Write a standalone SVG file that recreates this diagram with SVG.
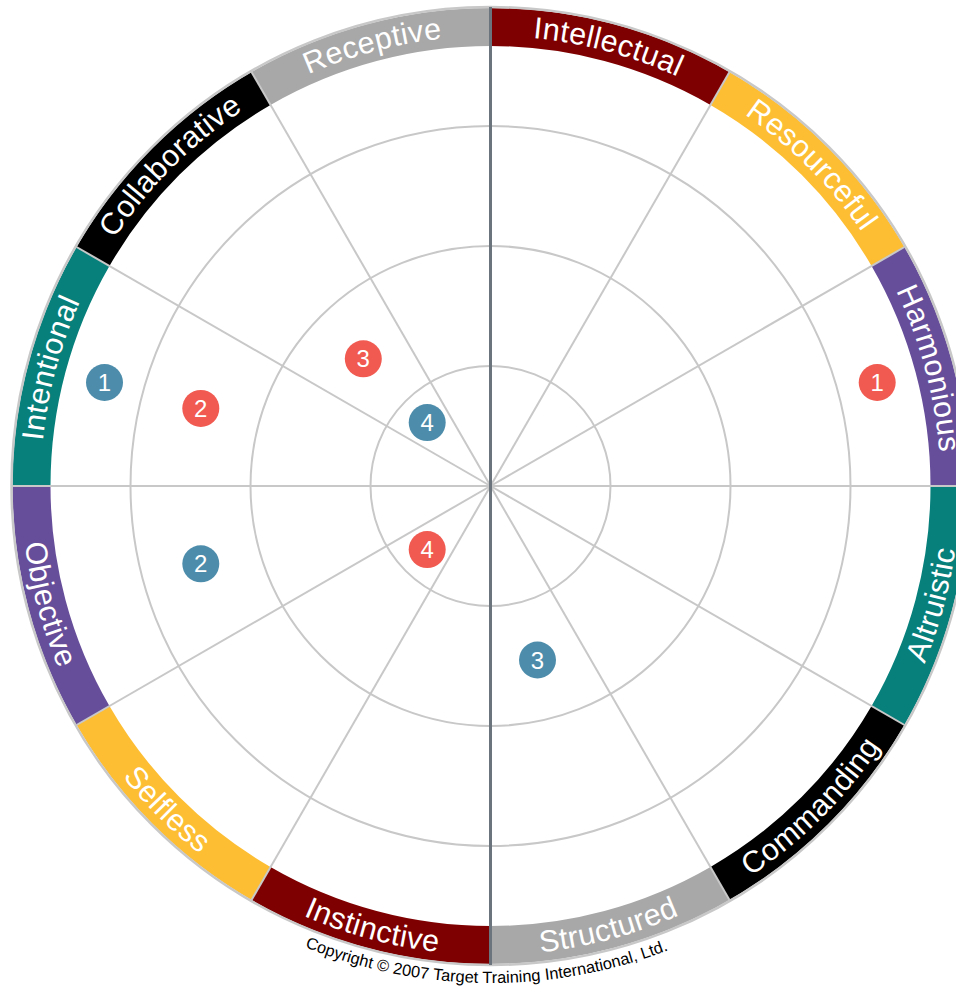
<svg xmlns="http://www.w3.org/2000/svg" xmlns:xlink="http://www.w3.org/1999/xlink" width="956" height="990" viewBox="0 0 956 990">
<style>
.grid{fill:none;stroke:#C8C8C8;stroke-width:2}
.spoke{stroke:#C8C8C8;stroke-width:2}
.lbl{font-family:"Liberation Sans",Arial,sans-serif;font-size:30.5px;fill:#fff;letter-spacing:0.4px}
.num{font-family:"Liberation Sans",Arial,sans-serif;font-size:24px;fill:#fff;text-anchor:middle}
.blue{fill:#4D8DAB}
.red{fill:#F05A50}
.copy{font-family:"Liberation Sans",Arial,sans-serif;font-size:16.4px;fill:#000}
</style>
<defs>
<path id="p0" d="M 490.5 36 A 450 450 0 0 1 715.5 96.29"/>
<path id="p30" d="M 715.5 96.29 A 450 450 0 0 1 880.21 261"/>
<path id="p60" d="M 880.21 261 A 450 450 0 0 1 940.5 486"/>
<path id="p90" d="M 896.67 720.5 A 469 469 0 0 0 959.5 486"/>
<path id="p120" d="M 724.5 892.17 A 469 469 0 0 0 896.67 720.5"/>
<path id="p150" d="M 490.5 955 A 469 469 0 0 0 724.5 892.17"/>
<path id="p180" d="M 256.5 892.17 A 469 469 0 0 0 490.5 955"/>
<path id="p210" d="M 84.33 720.5 A 469 469 0 0 0 256.5 892.17"/>
<path id="p240" d="M 21.5 486 A 469 469 0 0 0 84.33 720.5"/>
<path id="p270" d="M 40.5 486 A 450 450 0 0 1 100.79 261"/>
<path id="p300" d="M 100.79 261 A 450 450 0 0 1 265.5 96.29"/>
<path id="p330" d="M 265.5 96.29 A 450 450 0 0 1 490.5 36"/>
<path id="pcopy" d="M 171 866.7 A 497 497 0 0 0 810 866.7"/>
</defs>
<rect width="956" height="990" fill="#fff"/>
<g id="band">
<g id="seg-intellectual"><path fill="#7F0000" d="M 490.5 8 A 478 478 0 0 1 729.5 72.04 L 710.5 104.95 A 440 440 0 0 0 490.5 46 Z"/><text class="lbl"><textPath xlink:href="#p0" startOffset="50%" text-anchor="middle">Intellectual</textPath></text></g>
<g id="seg-resourceful"><path fill="#FDBE34" d="M 729.5 72.04 A 478 478 0 0 1 904.46 247 L 871.55 266 A 440 440 0 0 0 710.5 104.95 Z"/><text class="lbl"><textPath xlink:href="#p30" startOffset="50%" text-anchor="middle">Resourceful</textPath></text></g>
<g id="seg-harmonious"><path fill="#674E9A" d="M 904.46 247 A 478 478 0 0 1 968.5 486 L 930.5 486 A 440 440 0 0 0 871.55 266 Z"/><text class="lbl"><textPath xlink:href="#p60" startOffset="50%" text-anchor="middle">Harmonious</textPath></text></g>
<g id="seg-altruistic"><path fill="#07807B" d="M 968.5 486 A 478 478 0 0 1 904.46 725 L 871.55 706 A 440 440 0 0 0 930.5 486 Z"/><text class="lbl"><textPath xlink:href="#p90" startOffset="50%" text-anchor="middle">Altruistic</textPath></text></g>
<g id="seg-commanding"><path fill="#000000" d="M 904.46 725 A 478 478 0 0 1 729.5 899.96 L 710.5 866.95 A 440 440 0 0 0 871.55 706 Z"/><text class="lbl"><textPath xlink:href="#p120" startOffset="50%" text-anchor="middle">Commanding</textPath></text></g>
<g id="seg-structured"><path fill="#A8A8A8" d="M 729.5 899.96 A 478 478 0 0 1 490.5 964 L 490.5 926 A 440 440 0 0 0 710.5 866.95 Z"/><text class="lbl"><textPath xlink:href="#p150" startOffset="50%" text-anchor="middle">Structured</textPath></text></g>
<g id="seg-instinctive"><path fill="#7F0000" d="M 490.5 964 A 478 478 0 0 1 251.5 899.96 L 270.5 866.95 A 440 440 0 0 0 490.5 926 Z"/><text class="lbl"><textPath xlink:href="#p180" startOffset="50%" text-anchor="middle">Instinctive</textPath></text></g>
<g id="seg-selfless"><path fill="#FDBE34" d="M 251.5 899.96 A 478 478 0 0 1 76.54 725 L 109.45 706 A 440 440 0 0 0 270.5 866.95 Z"/><text class="lbl"><textPath xlink:href="#p210" startOffset="50%" text-anchor="middle">Selfless</textPath></text></g>
<g id="seg-objective"><path fill="#674E9A" d="M 76.54 725 A 478 478 0 0 1 12.5 486 L 50.5 486 A 440 440 0 0 0 109.45 706 Z"/><text class="lbl"><textPath xlink:href="#p240" startOffset="50%" text-anchor="middle">Objective</textPath></text></g>
<g id="seg-intentional"><path fill="#07807B" d="M 12.5 486 A 478 478 0 0 1 76.54 247 L 109.45 266 A 440 440 0 0 0 50.5 486 Z"/><text class="lbl"><textPath xlink:href="#p270" startOffset="50%" text-anchor="middle">Intentional</textPath></text></g>
<g id="seg-collaborative"><path fill="#000000" d="M 76.54 247 A 478 478 0 0 1 251.5 72.04 L 270.5 104.95 A 440 440 0 0 0 109.45 266 Z"/><text class="lbl"><textPath xlink:href="#p300" startOffset="50%" text-anchor="middle">Collaborative</textPath></text></g>
<g id="seg-receptive"><path fill="#A8A8A8" d="M 251.5 72.04 A 478 478 0 0 1 490.5 8 L 490.5 46 A 440 440 0 0 0 270.5 104.95 Z"/><text class="lbl"><textPath xlink:href="#p330" startOffset="50%" text-anchor="middle">Receptive</textPath></text></g>
</g>
<circle cx="490.5" cy="486" r="479" fill="none" stroke="#C8C8C8" stroke-width="2.5"/>
<g id="grid">
<circle class="grid" cx="490.5" cy="486" r="120"/>
<circle class="grid" cx="490.5" cy="486" r="240"/>
<circle class="grid" cx="490.5" cy="486" r="360"/>
</g>
<g id="connectors">
<line class="spoke" x1="12.5" y1="486" x2="968.5" y2="486"/>
<line class="spoke" x1="490.5" y1="486" x2="729.5" y2="72.04"/>
<line class="spoke" x1="490.5" y1="486" x2="904.46" y2="247"/>
<line class="spoke" x1="490.5" y1="486" x2="904.46" y2="725"/>
<line class="spoke" x1="490.5" y1="486" x2="729.5" y2="899.96"/>
<line class="spoke" x1="490.5" y1="486" x2="251.5" y2="899.96"/>
<line class="spoke" x1="490.5" y1="486" x2="76.54" y2="725"/>
<line class="spoke" x1="490.5" y1="486" x2="76.54" y2="247"/>
<line class="spoke" x1="490.5" y1="486" x2="251.5" y2="72.04"/>
<line x1="490.5" y1="7" x2="490.5" y2="965" stroke="#6B737C" stroke-width="3"/>
</g>
<g id="badge-blue1"><circle class="blue" cx="104.5" cy="382.5" r="18.5"/><text class="num" x="104.5" y="391">1</text></g>
<g id="badge-red2"><circle class="red" cx="200.8" cy="408.4" r="18.5"/><text class="num" x="200.8" y="417">2</text></g>
<g id="badge-red3"><circle class="red" cx="363.3" cy="358.8" r="18.5"/><text class="num" x="363.3" y="367.4">3</text></g>
<g id="badge-blue4"><circle class="blue" cx="427.2" cy="422.6" r="18.5"/><text class="num" x="427.2" y="431.2">4</text></g>
<g id="badge-red1"><circle class="red" cx="877.2" cy="382.5" r="18.5"/><text class="num" x="877.2" y="391">1</text></g>
<g id="badge-blue2"><circle class="blue" cx="200.8" cy="563.8" r="18.5"/><text class="num" x="200.8" y="572.4">2</text></g>
<g id="badge-red4"><circle class="red" cx="427.2" cy="549.6" r="18.5"/><text class="num" x="427.2" y="558.2">4</text></g>
<g id="badge-blue3"><circle class="blue" cx="537.5" cy="660" r="18.5"/><text class="num" x="537.5" y="668.6">3</text></g>
<text class="copy"><textPath xlink:href="#pcopy" startOffset="49.4%" text-anchor="middle">Copyright © 2007 Target Training International, Ltd.</textPath></text>
</svg>
